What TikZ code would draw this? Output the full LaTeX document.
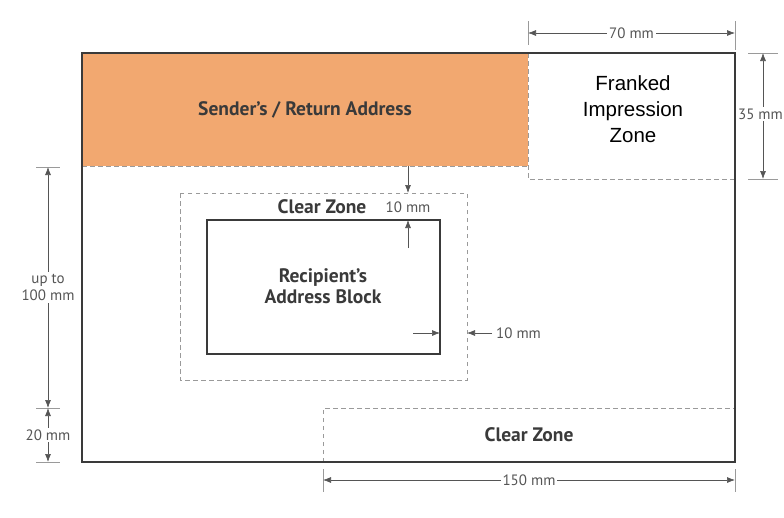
\documentclass[tikz,border=0pt]{standalone}
\usepackage{fontspec}
\setmainfont{PT Sans}
\newfontfamily\arialf{Liberation Sans}
\usetikzlibrary{arrows.meta}
\definecolor{orangefill}{HTML}{F2A870}
\definecolor{inkgray}{HTML}{3A3A3A}
\definecolor{dimgray}{HTML}{555555}
\definecolor{dashgray}{HTML}{9A9A9A}
\tikzset{
  envline/.style={draw=inkgray, line width=1.4pt},
  boxline/.style={draw=inkgray, line width=1.4pt},
  dashline/.style={draw=dashgray, line width=0.9pt, dash pattern=on 4.5pt off 3.5pt},
  tickline/.style={draw=dashgray, line width=0.8pt},
  dimarrow/.style={draw=dimgray, line width=0.7pt, {Latex[length=8pt,width=6pt]}-{Latex[length=8pt,width=6pt]}},
  onearrow/.style={draw=dimgray, line width=0.7pt, -{Latex[length=8pt,width=6pt]}},
  boldlbl/.style={font=\fontsize{19.5}{20.5}\selectfont\bfseries, text=inkgray, inner sep=0pt},
  dimlbl/.style={font=\fontsize{15}{17}\selectfont, text=dimgray, fill=white, inner sep=2pt, align=center},
  arialbl/.style={font=\arialf\fontsize{20.5}{26}\selectfont, text=black, align=center, inner sep=0pt}
}
\begin{document}
\begin{tikzpicture}[x=1pt,y=-1pt]
\useasboundingbox (0,0) rectangle (784,517);
\fill[white] (0,0) rectangle (784,517);
% sender's area
\fill[orangefill] (82,53) rectangle (528,166);
\node[boldlbl] (sender) at (305,110) {Sender’s / Return Address};
% zone boundaries
\draw[dashline] (82,166) -- (528,166);
\draw[dashline] (528,53) -- (528,179) -- (735,179);
\draw[dashline] (323,462) -- (323,408) -- (735,408);
\draw[dashline] (180,193) rectangle (467,380);
% envelope and address block
\draw[envline] (82,53) rectangle (735,462);
\draw[boxline] (207,220) rectangle (440,354);
% texts
\node[arialbl] (franked) at (633,109) {Franked\\Impression\\Zone};
\node[boldlbl] (clear1) at (322,207) {Clear Zone};
\node[boldlbl, align=center] (recip) at (323,286) {Recipient’s\\Address Block};
\node[boldlbl] (clear2) at (529,435) {Clear Zone};
% coordinates for dimensions
\coordinate (t70a) at (528,21); \coordinate (t70b) at (528,45);
\coordinate (t70c) at (735,21); \coordinate (t70d) at (735,50);
\coordinate (d70a) at (528,33); \coordinate (d70b) at (735,33);
\coordinate (t35a) at (748,53); \coordinate (t35b) at (778,53);
\coordinate (t35c) at (748,179); \coordinate (t35d) at (778,179);
\coordinate (d35a) at (763,53); \coordinate (d35b) at (763,179);
\coordinate (tla) at (36,167); \coordinate (tlb) at (60,167);
\coordinate (tlc) at (36,408); \coordinate (tld) at (60,408);
\coordinate (tle) at (36,462); \coordinate (tlf) at (60,462);
\coordinate (dla) at (48,167); \coordinate (dlb) at (48,408); \coordinate (dlc) at (48,462);
\coordinate (tba) at (323,469); \coordinate (tbb) at (323,492);
\coordinate (tbc) at (735,469); \coordinate (tbd) at (735,492);
\coordinate (dba) at (323,480); \coordinate (dbb) at (735,480);
\coordinate (va) at (408,166); \coordinate (vb) at (408,193);
\coordinate (vc) at (408,248); \coordinate (vd) at (408,220);
\coordinate (ha) at (413,333); \coordinate (hb) at (440,333);
\coordinate (hc) at (492,333); \coordinate (hd) at (467,333);
% ticks
\draw[tickline] (t70a) -- (t70b); \draw[tickline] (t70c) -- (t70d);
\draw[tickline] (t35a) -- (t35b); \draw[tickline] (t35c) -- (t35d);
\draw[tickline] (tla) -- (tlb); \draw[tickline] (tlc) -- (tld); \draw[tickline] (tle) -- (tlf);
\draw[tickline] (tba) -- (tbb); \draw[tickline] (tbc) -- (tbd);
% dimension arrows
\draw[dimarrow] (d70a) -- node[dimlbl] (l70) {70 mm} (d70b);
\draw[dimarrow] (d35a) -- (d35b);
\node[dimlbl, anchor=east, inner xsep=1pt] (l35) at (784,114) {35 mm};
\draw[dimarrow] (dla) -- node[dimlbl] (l100) {up to\\100 mm} (dlb);
\draw[dimarrow] (dlb) -- node[dimlbl] (l20) {20 mm} (dlc);
\draw[dimarrow] (dba) -- node[dimlbl] (l150) {150 mm} (dbb);
\draw[onearrow] (va) -- (vb);
\draw[onearrow] (vc) -- (vd);
\node[dimlbl, fill=none] (l10a) at (408,207) {10 mm};
\draw[onearrow] (ha) -- (hb);
\draw[onearrow] (hc) -- (hd);
\node[dimlbl, anchor=west, fill=none] (l10b) at (494,333) {10 mm};
\end{tikzpicture}
\end{document}
